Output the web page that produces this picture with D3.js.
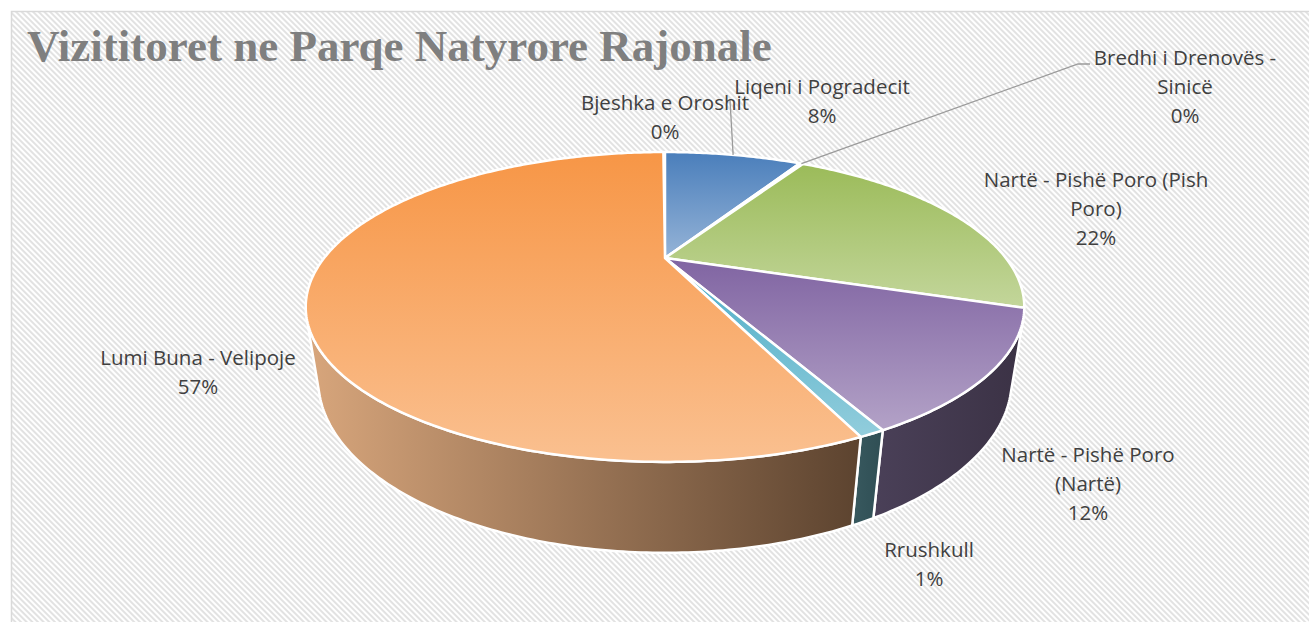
<!DOCTYPE html>
<html>
<head>
<meta charset="utf-8">
<script src="https://cdn.jsdelivr.net/npm/d3@7"></script>
<style>
  body { margin: 0; background: #fff; }
  text { font-family: "Open Sans", sans-serif; }
</style>
</head>
<body>
<div id="chart"></div>
<script>
// chart data (shares of visitors)
const categories = ["Liqeni i Pogradecit", "Bredhi i Drenovës - Sinicë", "Nartë - Pishë Poro (Pish Poro)",
  "Nartë - Pishë Poro (Nartë)", "Rrushkull", "Lumi Buna - Velipoje", "Bjeshka e Oroshit"];
const values = [8.4, 0.2, 21.6, 12.2, 0.9, 56.6, 0.1];
const title = "Vizititoret ne Parqe Natyrore Rajonale";

// styles: top face gradient (top -> bottom) and side wall gradient (left -> right)
const topColors = [["#4a7ebb", "#95b3d7"], ["#c0504d", "#d99694"], ["#9bbb59", "#c3d69b"],
  ["#8064a2", "#b3a2c7"], ["#4bacc6", "#92cddc"], ["#f79646", "#fac090"], ["#2c4d75", "#95b3d7"]];
const wallColors = [["#2c4d75", "#1f3552"], ["#7a2e2c", "#632523"], ["#5f7530", "#4f6228"],
  ["#4a4058", "#3b3245"], ["#38595f", "#2f4e54"], ["#d8a67c", "#5c432f"], ["#2c4d75", "#1f3552"]];
// label placement (center x, first baseline y)
const labelPos = [[822, 94], [1185, 65], [1096, 187], [1088, 462], [929, 557], [198, 365], [665, 110]];

let width = 1309, height = 622;
let svg = d3.select("#chart").append("svg")
  .attr("width", width)
  .attr("height", height);

let defs = svg.append("defs");

// diagonal hatch background
let hatch = defs.append("pattern")
  .attr("id", "hatch")
  .attr("patternUnits", "userSpaceOnUse")
  .attr("width", 4).attr("height", 4)
  .attr("patternTransform", "rotate(45)");
hatch.append("rect").attr("width", 4).attr("height", 4).attr("fill", "#ffffff");
hatch.append("rect").attr("width", 4).attr("height", 2).attr("fill", "#e2e2e2");

svg.append("rect")
  .attr("x", 11.5).attr("y", 11.5)
  .attr("width", 1400).attr("height", 700)
  .attr("fill", "url(#hatch)")
  .attr("stroke", "#d9d9d9")
  .attr("stroke-width", 1.5);

svg.append("text")
  .attr("x", 27).attr("y", 61)
  .style("font-family", "'Liberation Serif', serif")
  .style("font-weight", "bold")
  .style("font-size", "45px")
  .attr("fill", "#7f7f7f")
  .text(title);

// 3d perspective projection of the pie
const cx = 665, cy = 258;
const focal = 984;
const rad = 0.3464, thick = 0.08, tilt = 24.15 * Math.PI / 180;
function project(a, r, h) {
  const X = r * rad * Math.sin(a), Z = r * rad * Math.cos(a), Y = h * thick;
  const yv = Y * Math.cos(tilt) + Z * Math.sin(tilt);
  const zv = 1 + Z * Math.cos(tilt) - Y * Math.sin(tilt);
  return [cx + focal * X / zv, cy - focal * yv / zv];
}
const vis0 = Math.acos(-rad / Math.cos(tilt));
const vis1 = 2 * Math.PI - vis0;

let data = categories.map((c, i) => ({ name: c, value: values[i], i: i }));
let total = d3.sum(values);
let arcs = d3.pie().sort(null).value(d => d.value)(data);
let line = d3.line();

function arcPoints(a0, a1, h) {
  const n = Math.max(2, Math.ceil(Math.abs(a1 - a0) * 80));
  return d3.range(n + 1).map(k => project(a0 + (a1 - a0) * k / n, 1, h));
}
function topPath(d) {
  return line([project(0, 0, 0)].concat(arcPoints(d.startAngle, d.endAngle, 0))) + "Z";
}
function wallPath(d) {
  const a0 = Math.max(d.startAngle, vis0), a1 = Math.min(d.endAngle, vis1);
  if (a1 <= a0) return null;
  return line(arcPoints(a0, a1, 0).concat(arcPoints(a1, a0, -1))) + "Z";
}

arcs.forEach((d, i) => {
  let tg = defs.append("linearGradient").attr("id", "top" + i)
    .attr("x1", 0).attr("y1", 0).attr("x2", 0).attr("y2", 1);
  tg.append("stop").attr("offset", 0).attr("stop-color", topColors[i][0]);
  tg.append("stop").attr("offset", 1).attr("stop-color", topColors[i][1]);
  let wg = defs.append("linearGradient").attr("id", "wall" + i)
    .attr("x1", 0).attr("y1", 0).attr("x2", 1).attr("y2", 0);
  wg.append("stop").attr("offset", 0).attr("stop-color", wallColors[i][0]);
  wg.append("stop").attr("offset", 1).attr("stop-color", wallColors[i][1]);
});

let pie = svg.append("g").attr("class", "pie");

pie.selectAll("path.wall")
  .data(arcs.filter(d => d.value > 0 && wallPath(d)))
  .enter()
  .append("path")
  .attr("class", "wall")
  .attr("d", wallPath)
  .attr("fill", d => "url(#wall" + d.index + ")")
  .attr("stroke", "#ffffff")
  .attr("stroke-width", 2.5)
  .attr("stroke-linejoin", "round");

pie.selectAll("path.top")
  .data(arcs.filter(d => d.endAngle - d.startAngle > 0.01))
  .enter()
  .append("path")
  .attr("class", "top")
  .attr("d", topPath)
  .attr("fill", d => "url(#top" + d.index + ")")
  .attr("stroke", "#ffffff")
  .attr("stroke-width", 2.5)
  .attr("stroke-linejoin", "round");

// leader lines
function rimMid(d) {
  return project((d.startAngle + d.endAngle) / 2, 1, 0);
}
let leaders = [
  [[730, 100], rimMid(arcs[0])],
  [[1090, 64], [1078, 64], rimMid(arcs[1])]
];
svg.selectAll("path.leader")
  .data(leaders)
  .enter()
  .append("path")
  .attr("class", "leader")
  .attr("d", d => line(d))
  .attr("fill", "none")
  .attr("stroke", "#9a9a9a")
  .attr("stroke-width", 1.3);

// data labels, wrapped like excel does
const fontSize = 20.5, lineH = 29, maxW = 235;
let labels = svg.append("g").attr("class", "labels")
  .style("font-size", fontSize + "px")
  .attr("fill", "#404040")
  .attr("text-anchor", "middle");

let measure = labels.append("text").attr("visibility", "hidden");
function wrap(str) {
  let words = str.split(" "), lines = [], cur = "";
  words.forEach(w => {
    let test = cur ? cur + " " + w : w;
    measure.text(test);
    if (measure.node().getComputedTextLength() > maxW && cur) {
      lines.push(cur);
      cur = w;
    } else cur = test;
  });
  lines.push(cur);
  return lines;
}

arcs.forEach((d, i) => {
  let lines = wrap(d.data.name).concat([Math.round(d.value / total * 100) + "%"]);
  let t = labels.append("text")
    .attr("x", labelPos[i][0])
    .attr("y", labelPos[i][1]);
  lines.forEach((l, k) => {
    t.append("tspan")
      .attr("x", labelPos[i][0])
      .attr("dy", k === 0 ? 0 : lineH)
      .text(l);
  });
});
measure.remove();
</script>
</body>
</html>
